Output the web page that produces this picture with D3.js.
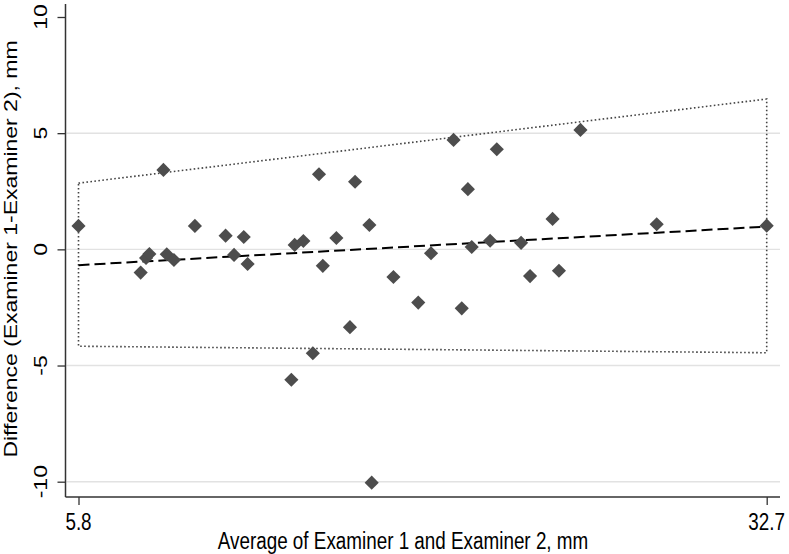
<!DOCTYPE html>
<html>
<head>
<meta charset="utf-8">
<script src="https://cdn.jsdelivr.net/npm/d3@7"></script>
<style>
body{margin:0;background:#fff;}
text{font-family:"Liberation Sans",Arial,sans-serif;fill:#000;}
</style>
</head>
<body>
<div class="bod"></div>
<script>
//data
const avgVals = [5.8, 8.23, 8.44, 8.57, 9.12, 9.25, 9.53, 10.35, 11.55, 11.88, 12.26, 12.41, 14.12, 14.25, 14.59, 14.96, 15.2, 15.35, 15.88, 16.41, 16.61, 17.17, 17.26, 18.11, 19.08, 19.58, 20.46, 20.78, 21.02, 21.17, 21.89, 22.15, 23.10, 23.45, 24.33, 24.58, 25.42, 28.40, 32.7]
const diffVals = [1.01, -1.0, -0.37, -0.2, 3.42, -0.21, -0.46, 1.01, 0.59, -0.24, 0.53, -0.63, -5.61, 0.19, 0.36, -4.47, 3.23, -0.71, 0.49, -3.35, 2.91, 1.05, -10.04, -1.19, -2.29, -0.17, 4.71, -2.54, 2.59, 0.10, 0.37, 4.31, 0.28, -1.15, 1.31, -0.92, 5.14, 1.08, 1.02]
const lineX = [5.8, 32.7]
const meanLine = [-0.68, 0.98]
const upperLine = [2.85, 6.47]
const lowerLine = [-4.17, -4.45]
const xTicks = [5.8, 32.7]
const yTicks = [-10, -5, 0, 5, 10]
const gridVals = [-10, -5, 0, 5]
const xTitle = 'Average of Examiner 1 and Examiner 2, mm'
const yTitle = 'Difference (Examiner 1-Examiner 2), mm'

var size = {width:789, height:554, left:65.5, bottom:497, right:780, top:4}
const sx = 0.82 //picture is squeezed sideways

const svg = d3.select('.bod')
  .append('svg')
  .attr('width', size.width)
  .attr('height', size.height)

const x = d3.scaleLinear().domain([5.8, 32.7]).range([78.5, 766.7])
const y = d3.scaleLinear().domain([-10, 10]).range([481.7, 17])

//grid
svg.selectAll('.grid')
  .data(gridVals)
  .enter()
  .append('line')
  .attr('x1', size.left + 1).attr('x2', size.right)
  .attr('y1', d => y(d)).attr('y2', d => y(d))
  .attr('stroke', '#e2e2e2')
  .attr('stroke-width', 1.4)

//axes
const yAxis = svg.append('g')
  .attr('transform', `translate(${size.left},0)`)
  .call(d3.axisLeft(y).tickValues(yTicks).tickSize(8).tickFormat(''))
const xAxis = svg.append('g')
  .attr('transform', `translate(0,${size.bottom})`)
  .call(d3.axisBottom(x).tickValues(xTicks).tickSize(8).tickFormat(''))
yAxis.select('.domain').remove()
xAxis.select('.domain').remove()
svg.selectAll('.tick line').attr('stroke', '#333').attr('stroke-width', 1.3)
svg.append('line')
  .attr('x1', size.left).attr('x2', size.left)
  .attr('y1', size.top).attr('y2', size.bottom)
  .attr('stroke', '#333').attr('stroke-width', 1.5)
svg.append('line')
  .attr('x1', size.left).attr('x2', size.right)
  .attr('y1', size.bottom).attr('y2', size.bottom)
  .attr('stroke', '#333').attr('stroke-width', 1.5)

//tick labels
svg.selectAll('.ylab')
  .data(yTicks)
  .enter()
  .append('text')
  .attr('transform', d => `translate(47,${y(d)}) scale(${sx},1) rotate(-90)`)
  .attr('text-anchor', 'middle')
  .style('font-size', '23px')
  .text(d => d)
svg.selectAll('.xlab')
  .data(xTicks)
  .enter()
  .append('text')
  .attr('transform', d => `translate(${x(d)},530) scale(${sx},1)`)
  .attr('text-anchor', 'middle')
  .style('font-size', '23px')
  .text(d => d)

//titles
svg.append('text')
  .attr('transform', `translate(403,549) scale(${sx},1)`)
  .attr('text-anchor', 'middle')
  .style('font-size', '23px')
  .text(xTitle)
svg.append('text')
  .attr('transform', `translate(17,249) scale(${sx},1) rotate(-90)`)
  .attr('text-anchor', 'middle')
  .style('font-size', '23px')
  .text(yTitle)

//limits of agreement box (dotted)
const pts = (arr) => lineX.map((v, i) => [x(v), y(arr[i])])
const up = pts(upperLine), lo = pts(lowerLine)
const boxPath = d3.line()([up[0], up[1], lo[1], lo[0], up[0]])
svg.append('path')
  .attr('d', boxPath)
  .attr('fill', 'none')
  .attr('stroke', '#444')
  .attr('stroke-width', 1.6)
  .attr('stroke-dasharray', '1.6,2.4')

//mean difference line
svg.append('path')
  .attr('d', d3.line()(pts(meanLine)))
  .attr('fill', 'none')
  .attr('stroke', '#000')
  .attr('stroke-width', 2)
  .attr('stroke-dasharray', '11,5')

//points
const diamond = d3.symbol().type(d3.symbolSquare).size(100)
svg.selectAll('.pt')
  .data(avgVals)
  .enter()
  .append('path')
  .attr('d', diamond)
  .attr('transform', (d, i) => `translate(${x(d)},${y(diffVals[i])}) rotate(45)`)
  .attr('fill', '#4d4d4d')
</script>
</body>
</html>
